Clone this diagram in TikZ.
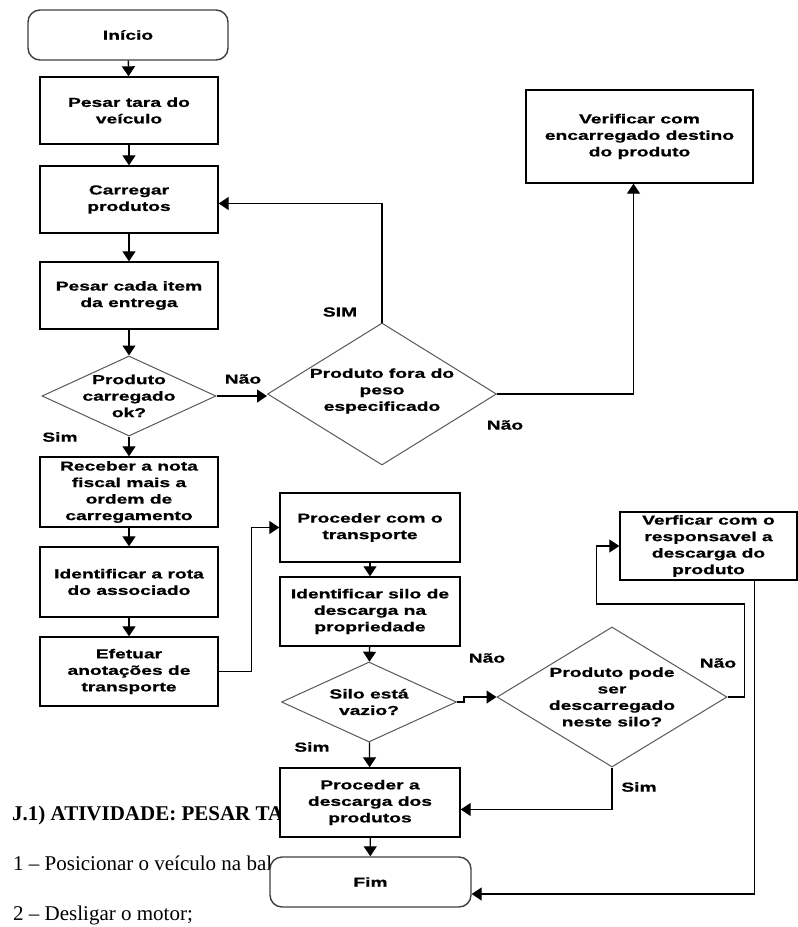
\documentclass[tikz,border=0pt]{standalone}
\usepackage{fontspec}
\setmainfont{Liberation Serif}
\newfontfamily\flowfont[FakeStretch=1.48,FakeBold=0.8]{Liberation Sans Bold}
\usetikzlibrary{shapes.geometric,arrows.meta,calc}
\tikzset{
  x=1pt, y=-1pt,
  txt/.style={font=\flowfont\fontsize{13}{16.5}\selectfont, align=center, text=black},
  procbox/.style={txt, draw=black, line width=1.4pt, fill=white, inner sep=1pt},
  termbox/.style={procbox, rounded corners=12pt, draw=black!75},
  decbox/.style={diamond, draw=black!65, line width=1pt, fill=white, inner sep=0pt},
  lbl/.style={txt, inner sep=0pt},
  arr/.style={-{Triangle[length=10pt,width=13pt]}, line width=1.3pt},
  bodytext/.style={font=\fontsize{21}{25}\selectfont, anchor=base west, inner sep=0pt, text=black}
}
\begin{document}
\begin{tikzpicture}
\useasboundingbox (0,0) rectangle (798,927);
\fill[white] (0,0) rectangle (798,927);

% body text of the page (partly covered by the chart)
\node[bodytext] (t1) at (12,820) {\bfseries J.1) ATIVIDADE: PESAR TA};
\node[bodytext] (t2) at (13,870) {1 -- Posicionar o veículo na bal};
\node[bodytext] (t3) at (13,920) {2 -- Desligar o motor;};

% left column
\node[termbox, minimum width=200pt, minimum height=50pt] (ini) at (128,35) {Início};
\node[procbox, minimum width=178pt, minimum height=67pt] (tara) at (129,110.5) {Pesar tara do\\veículo};
\node[procbox, minimum width=178pt, minimum height=67pt] (carr) at (129,199.5) {Carregar\\produtos};
\node[procbox, minimum width=178pt, minimum height=67pt] (item) at (129,295.5) {Pesar cada item\\da entrega};
\node[decbox, minimum width=174pt, minimum height=80pt] (d1) at (129,396) {};
\node[lbl] (d1t) at (d1) {Produto\\carregado\\ok?};
\node[procbox, minimum width=178pt, minimum height=70pt] (rec) at (129,492) {Receber a nota\\fiscal mais a\\ordem de\\carregamento};
\node[procbox, minimum width=178pt, minimum height=70pt] (rota) at (129,582) {Identificar a rota\\do associado};
\node[procbox, minimum width=178pt, minimum height=69pt] (efe) at (129,671.5) {Efetuar\\anotações de\\transporte};

% upper right
\node[decbox, minimum width=229pt, minimum height=142pt] (d2) at (382,394) {};
\node[lbl] (d2t) at (382,391) {Produto fora do\\peso\\especificado};
\node[procbox, minimum width=227pt, minimum height=93pt] (ver1) at (639.5,136.5) {Verificar com\\encarregado destino\\do produto};

% middle column
\node[procbox, minimum width=180pt, minimum height=69pt] (proc) at (370,527.5) {Proceder com o\\transporte};
\node[procbox, minimum width=180pt, minimum height=69pt] (silo) at (370,611.5) {Identificar silo de\\descarga na\\propriedade};
\node[decbox, minimum width=175pt, minimum height=80pt] (d3) at (369,702) {};
\node[lbl] (d3t) at (d3) {Silo está\\vazio?};
\node[procbox, minimum width=180pt, minimum height=69pt] (desc) at (370,802.5) {Proceder a\\descarga dos\\produtos};
\node[termbox, minimum width=201pt, minimum height=50pt] (fim) at (370.5,882) {Fim};

% lower right
\node[decbox, minimum width=230pt, minimum height=140pt] (d4) at (612,697) {};
\node[lbl] (d4t) at (d4) {Produto pode\\ser\\descarregado\\neste silo?};
\node[procbox, minimum width=177pt, minimum height=68pt] (ver2) at (708.5,546) {Verficar com o\\responsavel a\\descarga do\\produto};

% connectors, left column
\draw[arr] (ini) -- (tara);
\draw[arr] (tara) -- (carr);
\draw[arr] (carr) -- (item);
\draw[arr] (item) -- (d1);
\draw[arr] (d1) -- (rec);
\draw[arr] (rec) -- (rota);
\draw[arr] (rota) -- (efe);

% decision 1 and 2
\draw[arr] (d1.east) -- (d1.east -| d2.west);
\draw[arr] (d2.north) |- ($(carr.east)+(0,4)$);
\draw[arr] (d2.east) -| ($(ver1.south)+(-6,0)$);

% to transport
\draw[arr] (efe.east) -- ++(33,0) |- (proc.west);
\draw[arr] (proc) -- (silo);
\draw[arr] (silo) -- (d3);
\draw[arr] (d3) -- (desc);
\draw[arr] (d3.east) -- ++(7,0) |- (d4.west);
\draw[arr] (d4.east) -- ++(17,0) |- ++(-148,-93) |- (ver2.west);
\draw[arr] (d4.south) |- ($(desc.east)+(0,7)$);
\draw[arr] ($(ver2.south east)+(-43,0)$) |- ($(fim.east)+(0,12)$);
\draw[arr] (desc) -- (fim);

% labels
\node[lbl] (l1) at (243,379) {Não};
\node[lbl] (l2) at (60,437) {Sim};
\node[lbl] (l3) at (340,312) {SIM};
\node[lbl] (l4) at (505,425) {Não};
\node[lbl] (l5) at (487,658) {Não};
\node[lbl] (l6) at (718,663) {Não};
\node[lbl] (l7) at (312,747) {Sim};
\node[lbl] (l8) at (639,787) {Sim};
\end{tikzpicture}
\end{document}
